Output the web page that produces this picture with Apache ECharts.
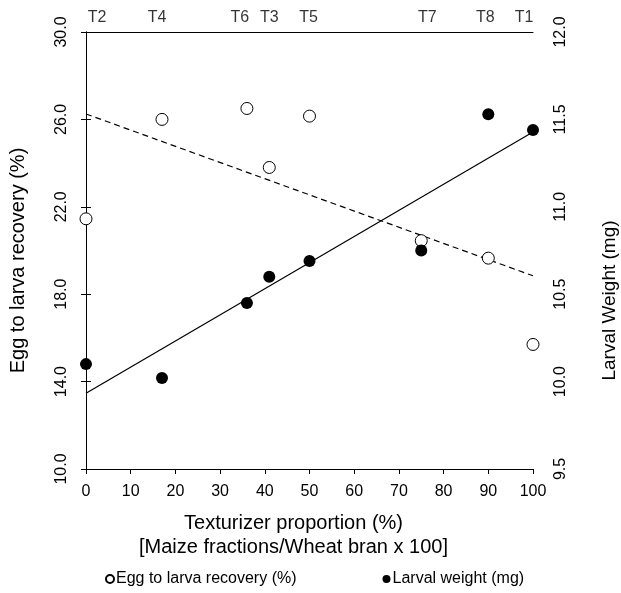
<!DOCTYPE html>
<html>
<head>
<meta charset="utf-8">
<script src="https://cdn.jsdelivr.net/npm/echarts@6/dist/echarts.min.js"></script>
<style>
  html, body { margin: 0; padding: 0; background: #fff; }
  #chart { width: 621px; height: 593px; }
</style>
</head>
<body>
<div id="chart"></div>
<script>
// Texturizer proportion (%) for each treatment
const texturizer = [0, 17, 36, 41, 50, 75, 90, 100];
// Treatment codes shown along the top edge
const treatments = ['T2', 'T4', 'T6', 'T3', 'T5', 'T7', 'T8', 'T1'];
// Egg to larva recovery (%) - left axis
const eggRecovery = [21.45, 26.0, 26.5, 23.8, 26.15, 20.45, 19.65, 15.7];
// Larval weight (mg) - right axis
const larvalWeight = [10.1, 10.02, 10.45, 10.6, 10.69, 10.75, 11.53, 11.44];

// Horizontal nudges so neighbouring treatment codes do not collide
const codeNudge = [11, -5, -7, 0, -1, 6, -3, -9];

const FONT = 'Liberation Sans, Arial, sans-serif';

// Ordinary least-squares fit, returned as the two end points of the line
function fitLine(xs, ys, x0, x1) {
  const n = xs.length;
  const mx = xs.reduce((a, b) => a + b, 0) / n;
  const my = ys.reduce((a, b) => a + b, 0) / n;
  let sxy = 0, sxx = 0;
  for (let i = 0; i < n; i++) {
    sxy += (xs[i] - mx) * (ys[i] - my);
    sxx += (xs[i] - mx) * (xs[i] - mx);
  }
  const b = sxy / sxx;
  const a = my - b * mx;
  return [[x0, a + b * x0], [x1, a + b * x1]];
}

const eggFit = fitLine(texturizer, eggRecovery, 0, 100);
const weightFit = fitLine(texturizer, larvalWeight, 0, 100);

const axisLineStyle = { lineStyle: { color: '#000', width: 1 } };
const tickStyle = { show: true, inside: false, length: 5, lineStyle: { color: '#000' } };

const chart = echarts.init(document.getElementById('chart'), null, { renderer: 'canvas' });

chart.setOption({
  animation: false,
  backgroundColor: '#fff',
  textStyle: { fontFamily: FONT, color: '#000' },
  grid: { left: 86, right: 88, top: 32, bottom: 124, containLabel: false, outerBoundsMode: 'none' },
  legend: {
    data: ['Egg to larva recovery (%)', 'Larval weight (mg)'],
    left: 100,
    top: 566,
    icon: 'circle',
    itemWidth: 8,
    itemHeight: 8,
    itemGap: 86,
    textStyle: { fontFamily: FONT, fontSize: 16, color: '#000', padding: [0, 0, 0, -3] }
  },
  xAxis: [
    {
      type: 'value',
      position: 'bottom',
      min: 0,
      max: 100,
      interval: 10,
      axisLine: axisLineStyle,
      axisTick: tickStyle,
      axisLabel: { fontFamily: FONT, fontSize: 16, color: '#000', margin: 15 },
      splitLine: { show: false },
      name: 'Texturizer proportion (%)\n[Maize fractions/Wheat bran x 100]',
      nameLocation: 'middle',
      nameGap: 42,
      nameTextStyle: { fontFamily: FONT, fontSize: 20, color: '#000', lineHeight: 24, padding: [0, 32, 0, 0] }
    },
    {
      type: 'value',
      position: 'top',
      min: 0,
      max: 100,
      axisLine: axisLineStyle,
      axisTick: { show: false },
      axisLabel: { show: false },
      splitLine: { show: false }
    }
  ],
  yAxis: [
    {
      type: 'value',
      position: 'left',
      min: 10,
      max: 30,
      interval: 4,
      axisLine: { show: true, lineStyle: { color: '#000', width: 1 } },
      axisTick: tickStyle,
      axisLabel: {
        fontFamily: FONT, fontSize: 16, color: '#000', rotate: 90, margin: 16,
        align: 'center', verticalAlign: 'bottom',
        formatter: v => v.toFixed(1)
      },
      splitLine: { show: false },
      name: 'Egg to larva recovery (%)',
      nameLocation: 'middle',
      nameGap: 58,
      nameRotate: 90,
      nameTextStyle: { fontFamily: FONT, fontSize: 20, color: '#000', padding: [0, 20, 0, 0] }
    },
    {
      type: 'value',
      position: 'right',
      min: 9.5,
      max: 12,
      interval: 0.5,
      axisLine: { show: true, lineStyle: { color: '#000', width: 1 } },
      axisTick: tickStyle,
      axisLabel: {
        fontFamily: FONT, fontSize: 16, color: '#000', rotate: 90, margin: 20,
        align: 'center', verticalAlign: 'top',
        formatter: v => v.toFixed(1)
      },
      splitLine: { show: false },
      name: 'Larval Weight (mg)',
      nameLocation: 'middle',
      nameGap: 67,
      nameRotate: 90,
      nameTextStyle: { fontFamily: FONT, fontSize: 19, color: '#000', padding: [0, 100, 0, 0] }
    }
  ],
  series: [
    {
      name: 'Egg fit',
      type: 'line',
      xAxisIndex: 0,
      yAxisIndex: 0,
      data: eggFit,
      showSymbol: false,
      silent: true,
      z: 1,
      lineStyle: { color: '#000', width: 1.2, type: [6, 4] }
    },
    {
      name: 'Weight fit',
      type: 'line',
      xAxisIndex: 0,
      yAxisIndex: 1,
      data: weightFit,
      showSymbol: false,
      silent: true,
      z: 1,
      lineStyle: { color: '#000', width: 1.2, type: 'solid' }
    },
    {
      name: 'Egg to larva recovery (%)',
      type: 'scatter',
      xAxisIndex: 0,
      yAxisIndex: 0,
      clip: false,
      z: 3,
      symbol: 'circle',
      symbolSize: 12,
      itemStyle: { color: '#fff', borderColor: '#000', borderWidth: 1, opacity: 1 },
      data: texturizer.map((x, i) => [x, eggRecovery[i]])
    },
    {
      name: 'Larval weight (mg)',
      type: 'scatter',
      xAxisIndex: 0,
      yAxisIndex: 1,
      clip: false,
      z: 4,
      symbol: 'circle',
      symbolSize: 12,
      itemStyle: { color: '#000', opacity: 1 },
      data: texturizer.map((x, i) => [x, larvalWeight[i]])
    },
    {
      name: 'Treatment codes',
      type: 'scatter',
      xAxisIndex: 1,
      yAxisIndex: 0,
      clip: false,
      silent: true,
      symbolSize: 0,
      data: texturizer.map((x, i) => ({
        value: [x, 30],
        label: {
          show: true,
          position: 'top',
          distance: 6,
          offset: [codeNudge[i], 0],
          formatter: treatments[i],
          fontFamily: FONT,
          fontSize: 16,
          color: '#000'
        }
      }))
    }
  ]
});
</script>
</body>
</html>
